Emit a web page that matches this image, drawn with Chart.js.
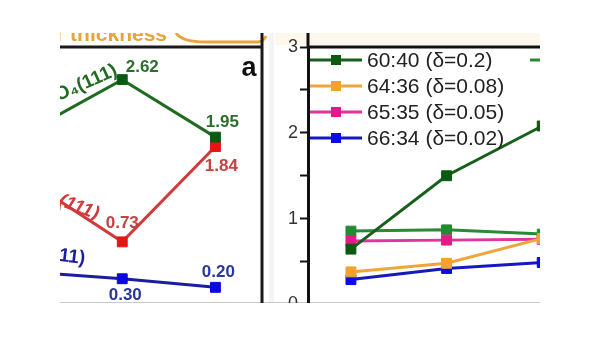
<!DOCTYPE html>
<html>
<head>
<meta charset="utf-8">
<script src="https://cdn.jsdelivr.net/npm/chart.js@4.4.1/dist/chart.umd.min.js"></script>
<style>
html, body { margin: 0; padding: 0; background: #fff; width: 600px; height: 338px; overflow: hidden; }
#crop { position: absolute; left: 60px; top: 33px; width: 480px; height: 270px; overflow: hidden; background: #fff; }
#strip { position: absolute; left: 215px; top: 0; width: 265px; height: 12px; background: #fdf8ec; }
#gap { position: absolute; left: 209px; top: 0; width: 5px; height: 270px; background: #f4f4f4; }
#bottomLine { position: absolute; left: 0; top: 269px; width: 480px; height: 1px; background: #c8c8c8; }
#leftBox { position: absolute; left: -100px; top: 0; width: 310px; height: 300px; }
#rightBox { position: absolute; left: 215px; top: 0; width: 365px; height: 300px; }
</style>
</head>
<body>
<div id="crop">
    <div id="strip"></div>
    <div id="gap"></div>
    <div id="bottomLine"></div>
    <div id="leftBox"><canvas id="leftChart" width="310" height="300"></canvas></div>
    <div id="rightBox"><canvas id="rightChart" width="365" height="300"></canvas></div>
</div>
<script>
// panel (a): three samples, values as printed on the figure
const leftCats = ["1", "2", "3"];
const greenVals = [2.02, 2.62, 1.95];
const redVals = [1.44, 0.73, 1.84];
const blueVals = [0.38, 0.30, 0.20];

// right panel: composition series
const rightX = [1, 2, 3];
const s6040 = [0.645, 1.50, 2.08];
const s6436 = [0.38, 0.48, 0.77];
const s6535 = [0.74, 0.75, 0.76];
const s6634 = [0.29, 0.42, 0.49];
const s6238 = [0.855, 0.87, 0.82];
const rightLabels = ["60:40 (\u03b4=0.2)", "64:36 (\u03b4=0.08)", "65:35 (\u03b4=0.05)", "66:34 (\u03b4=0.02)", "62:38 (\u03b4=0.12)"];
const yTicks = [0, 1, 2, 3];

const FONT = '"Liberation Sans", Arial, sans-serif';

function lineSet(label, data, line, mark) {
    return {
        label,
        data,
        borderColor: line,
        backgroundColor: mark,
        pointBackgroundColor: mark,
        pointBorderColor: mark,
        pointStyle: "rect",
        pointRadius: 7,
        pointBorderWidth: 1,
        borderWidth: 3,
        tension: 0
    };
}

// value labels next to the visible points of panel a
const valueLabels = [
    { ds: 0, i: 1, dx: 20, dy: -12, color: "#2d6e2d" },
    { ds: 0, i: 2, dx: 7, dy: -15, color: "#2d6e2d" },
    { ds: 1, i: 1, dx: 0, dy: -19, color: "#c84040" },
    { ds: 1, i: 2, dx: 6, dy: 20, color: "#c84040" },
    { ds: 2, i: 1, dx: 3, dy: 17, color: "#27379a" },
    { ds: 2, i: 2, dx: 3, dy: -15, color: "#27379a" }
];

const seriesNames = [
    { ds: 0, text: "Fe\u2083O\u2084(111)", dx: -6, dy: -10, rot: -0.42, italic: false },
    { ds: 1, text: "(111)", dx: -24, dy: -27, rot: 0.36, italic: true },
    { ds: 2, text: "(111)", dx: -37, dy: -20, rot: 0.12, italic: false }
];

const leftDecor = {
    id: "leftDecor",
    afterDraw(chart) {
        const ctx = chart.ctx;
        const area = chart.chartArea;
        const xs = chart.scales.x;
        const ys = chart.scales.y;
        ctx.save();

        // strip above the panel
        ctx.fillStyle = "#e8a33a";
        ctx.font = "bold 21px " + FONT;
        ctx.textAlign = "right";
        ctx.textBaseline = "alphabetic";
        ctx.fillText("Layer thickness", 207, 8);
        ctx.strokeStyle = "#e8a440";
        ctx.lineWidth = 3;
        ctx.beginPath();
        ctx.moveTo(216, 0);
        ctx.quadraticCurveTo(222, 9, 245, 9);
        ctx.lineTo(298, 9);
        ctx.quadraticCurveTo(304, 8, 306, 3);
        ctx.stroke();

        // frame
        ctx.strokeStyle = "#1a1a1a";
        ctx.lineWidth = 3;
        ctx.beginPath();
        ctx.moveTo(0, area.top);
        ctx.lineTo(area.right, area.top);
        ctx.moveTo(area.right, 0);
        ctx.lineTo(area.right, chart.height);
        ctx.stroke();

        ctx.fillStyle = "#111";
        ctx.font = "bold 27px " + FONT;
        ctx.textAlign = "center";
        ctx.textBaseline = "middle";
        ctx.fillText("a", area.right - 13, area.top + 22);

        ctx.font = "bold 17px " + FONT;
        valueLabels.forEach(l => {
            const v = chart.data.datasets[l.ds].data[l.i];
            const px = xs.getPixelForValue(l.i);
            const py = ys.getPixelForValue(v);
            ctx.fillStyle = l.color;
            ctx.fillText(v.toFixed(2), px + l.dx, py + l.dy);
        });

        seriesNames.forEach(s => {
            const ds = chart.data.datasets[s.ds];
            const px = xs.getPixelForValue(1) + s.dx;
            const py = ys.getPixelForValue(ds.data[1]) + s.dy;
            ctx.save();
            ctx.translate(px, py);
            ctx.rotate(s.rot);
            ctx.fillStyle = ds.borderColor;
            ctx.font = (s.italic ? "italic " : "") + "bold 19px " + FONT;
            ctx.textAlign = "right";
            ctx.textBaseline = "middle";
            ctx.fillText(s.text, 0, 0);
            ctx.restore();
        });
        ctx.restore();
    }
};

new Chart(document.getElementById("leftChart"), {
    type: "line",
    data: {
        labels: leftCats,
        datasets: [
            lineSet("Fe3O4(111)", greenVals, "#1f6b20", "#0b5a14"),
            lineSet("(111) red", redVals, "#d03a3a", "#e81414"),
            lineSet("(111) blue", blueVals, "#1c1ca0", "#0a0ae0")
        ]
    },
    options: {
        responsive: false,
        animation: false,
        devicePixelRatio: 1,
        layout: { padding: { left: 22.5, right: 2.5, top: 14, bottom: 28.5 } },
        scales: {
            x: { display: false, offset: true },
            y: { display: false, min: 0, max: 3 }
        },
        plugins: { legend: { display: false }, tooltip: { enabled: false } }
    },
    plugins: [leftDecor]
});

const rightDecor = {
    id: "rightDecor",
    afterDraw(chart) {
        const ctx = chart.ctx;
        const area = chart.chartArea;
        ctx.save();
        ctx.strokeStyle = "#111";
        ctx.lineWidth = 3;
        ctx.beginPath();
        ctx.moveTo(area.left, area.top);
        ctx.lineTo(chart.width, area.top);
        ctx.moveTo(area.left, 0);
        ctx.lineTo(area.left, area.top);
        ctx.stroke();

        // legend, two columns
        const cols = [[0, 1, 2, 3], [4]];
        const colX = [area.left + 2, area.left + 222];
        ctx.font = "21px " + FONT;
        ctx.textAlign = "left";
        ctx.textBaseline = "middle";
        cols.forEach((col, c) => {
            col.forEach((idx, r) => {
                const ds = chart.data.datasets[idx];
                const x0 = colX[c];
                const y = area.top + 13 + r * 26;
                ctx.strokeStyle = ds.borderColor;
                ctx.lineWidth = 3;
                ctx.beginPath();
                ctx.moveTo(x0, y);
                ctx.lineTo(x0 + 52, y);
                ctx.stroke();
                ctx.fillStyle = ds.pointBackgroundColor;
                ctx.fillRect(x0 + 21, y - 5, 10, 10);
                ctx.fillStyle = "#222";
                ctx.fillText(ds.label, x0 + 57, y + 1);
            });
        });
        ctx.restore();
    }
};

function toPoints(vals) {
    return vals.map((v, i) => ({ x: rightX[i], y: v }));
}

new Chart(document.getElementById("rightChart"), {
    type: "line",
    data: {
        datasets: [
            lineSet(rightLabels[0], toPoints(s6040), "#17601c", "#0b5a12"),
            lineSet(rightLabels[1], toPoints(s6436), "#f0a53c", "#f5a030"),
            lineSet(rightLabels[2], toPoints(s6535), "#e0359a", "#e5198c"),
            lineSet(rightLabels[3], toPoints(s6634), "#1818c0", "#0a0aef"),
            lineSet(rightLabels[4], toPoints(s6238), "#2a8a34", "#228b30")
        ]
    },
    options: {
        responsive: false,
        animation: false,
        devicePixelRatio: 1,
        layout: { padding: { left: 0, right: 0, top: 14, bottom: 28.5 } },
        scales: {
            x: { type: "linear", display: false, min: 0.551, max: 3.939 },
            y: {
                min: 0,
                max: 3,
                afterFit(scale) { scale.width = 33; },
                border: { display: true, color: "#111", width: 3 },
                grid: { drawOnChartArea: false, drawTicks: true, tickLength: 8, tickColor: "#111", tickWidth: 2 },
                ticks: {
                    stepSize: 0.5,
                    padding: 2,
                    color: "#333",
                    font: { family: FONT, size: 18 },
                    callback: v => yTicks.includes(v) ? String(v) : ""
                }
            }
        },
        plugins: { legend: { display: false }, tooltip: { enabled: false } }
    },
    plugins: [rightDecor]
});
</script>
</body>
</html>
